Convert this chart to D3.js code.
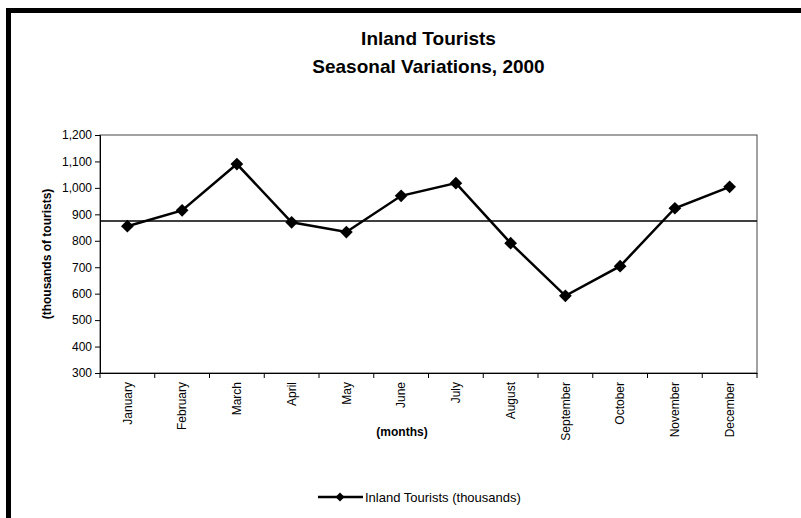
<!DOCTYPE html>
<html>
<head>
<meta charset="utf-8">
<script src="https://cdn.jsdelivr.net/npm/d3@7"></script>
<style>
  body { margin: 0; background: #fff; }
  text { font-family: Arial, "Liberation Sans", sans-serif; }
</style>
</head>
<body>
<div id="wrapper"></div>
<script>
// data
const months = ["January", "February", "March", "April", "May", "June",
  "July", "August", "September", "October", "November", "December"];
const tourists = [855, 915, 1090, 870, 833, 970, 1018, 791, 592, 704, 923, 1004];
const averageLine = [875];
const yTicks = [300, 400, 500, 600, 700, 800, 900, 1000, 1100, 1200];
const titleLines = ["Inland Tourists", "Seasonal Variations, 2000"];

function drawChart() {
  let dimensions = {
    width: 801,
    height: 518,
    margin: { top: 135, right: 44, bottom: 145, left: 100 },
  };
  dimensions.boundedWidth =
    dimensions.width - dimensions.margin.left - dimensions.margin.right;
  dimensions.boundedHeight =
    dimensions.height - dimensions.margin.top - dimensions.margin.bottom;

  const svg = d3
    .select("#wrapper")
    .append("svg")
    .attr("width", dimensions.width)
    .attr("height", dimensions.height);

  // the thick frame (left + top only)
  svg.append("rect").attr("x", 6).attr("y", 8).attr("width", 795).attr("height", 5).attr("fill", "#000");
  svg.append("rect").attr("x", 6).attr("y", 8).attr("width", 5).attr("height", 510).attr("fill", "#000");

  // title
  svg.append("text")
    .attr("text-anchor", "middle")
    .attr("font-weight", "bold")
    .attr("font-size", 19)
    .selectAll("tspan")
    .data(titleLines)
    .join("tspan")
    .attr("x", dimensions.margin.left + dimensions.boundedWidth / 2)
    .attr("y", (d, i) => 45 + i * 28)
    .text((d) => d);

  const bounds = svg
    .append("g")
    .attr("transform", `translate(${dimensions.margin.left},${dimensions.margin.top})`);

  const xScale = d3.scaleBand().domain(months).range([0, dimensions.boundedWidth]);
  const yScale = d3.scaleLinear().domain([300, 1200]).range([dimensions.boundedHeight, 0]);

  // plot area border
  bounds.append("rect")
    .attr("width", dimensions.boundedWidth)
    .attr("height", dimensions.boundedHeight)
    .attr("fill", "none")
    .attr("stroke", "#444")
    .attr("stroke-width", 1);

  // y axis
  const yAxis = bounds.append("g")
    .call(d3.axisLeft(yScale).tickValues(yTicks).tickSize(5).tickPadding(3).tickFormat(d3.format(",")));
  yAxis.selectAll("text").attr("font-size", 12).attr("fill", "#000").style("font-family", "Arial, 'Liberation Sans', sans-serif");
  yAxis.selectAll("line,path").attr("stroke", "#000");

  // x axis, ticks between categories
  const xAxis = bounds.append("g")
    .attr("transform", `translate(0,${dimensions.boundedHeight})`)
    .call(d3.axisBottom(xScale).tickSize(0).tickSizeOuter(0));
  xAxis.select(".domain").attr("stroke", "#000");
  xAxis.selectAll(".tick text")
    .attr("font-size", 12)
    .attr("fill", "#000")
    .style("font-family", "Arial, 'Liberation Sans', sans-serif")
    .attr("text-anchor", "end")
    .attr("transform", "rotate(-90)")
    .attr("x", -9)
    .attr("y", 0)
    .attr("dy", "0.35em");
  xAxis.selectAll(".sep")
    .data(d3.range(months.length + 1))
    .join("line")
    .attr("class", "sep")
    .attr("x1", (i) => i * xScale.step())
    .attr("x2", (i) => i * xScale.step())
    .attr("y1", 0)
    .attr("y2", 5)
    .attr("stroke", "#000");

  // axis titles
  svg.append("text")
    .attr("transform", `translate(51,${dimensions.margin.top + dimensions.boundedHeight / 2}) rotate(-90)`)
    .attr("text-anchor", "middle")
    .attr("font-weight", "bold")
    .attr("font-size", 12)
    .text("(thousands of tourists)");
  svg.append("text")
    .attr("x", 402)
    .attr("y", 436)
    .attr("text-anchor", "middle")
    .attr("font-weight", "bold")
    .attr("font-size", 12)
    .text("(months)");

  // horizontal reference line
  bounds.selectAll(".avg")
    .data(averageLine)
    .join("line")
    .attr("class", "avg")
    .attr("x1", 0)
    .attr("x2", dimensions.boundedWidth)
    .attr("y1", (d) => yScale(d))
    .attr("y2", (d) => yScale(d))
    .attr("stroke", "#000")
    .attr("stroke-width", 1.5);

  const xAccessor = (d, i) => xScale(months[i]) + xScale.bandwidth() / 2;
  const lineGenerator = d3.line().x(xAccessor).y((d) => yScale(d));

  bounds.append("path")
    .attr("d", lineGenerator(tourists))
    .attr("fill", "none")
    .attr("stroke", "#000")
    .attr("stroke-width", 2.5);

  const diamond = d3.symbol().type(d3.symbolSquare).size(81);
  bounds.selectAll(".pt")
    .data(tourists)
    .join("path")
    .attr("class", "pt")
    .attr("d", diamond)
    .attr("transform", (d, i) => `translate(${xAccessor(d, i)},${yScale(d)}) rotate(45)`)
    .attr("fill", "#000");

  // legend
  const legend = svg.append("g").attr("transform", "translate(318,497)");
  legend.append("line").attr("x1", 0).attr("x2", 45).attr("stroke", "#000").attr("stroke-width", 2.5);
  legend.append("path").attr("d", d3.symbol().type(d3.symbolSquare).size(40)).attr("transform", "translate(22,0) rotate(45)");
  legend.append("text").attr("x", 47).attr("y", 4.5).attr("font-size", 13).text("Inland Tourists (thousands)");
}
drawChart();
</script>
</body>
</html>
